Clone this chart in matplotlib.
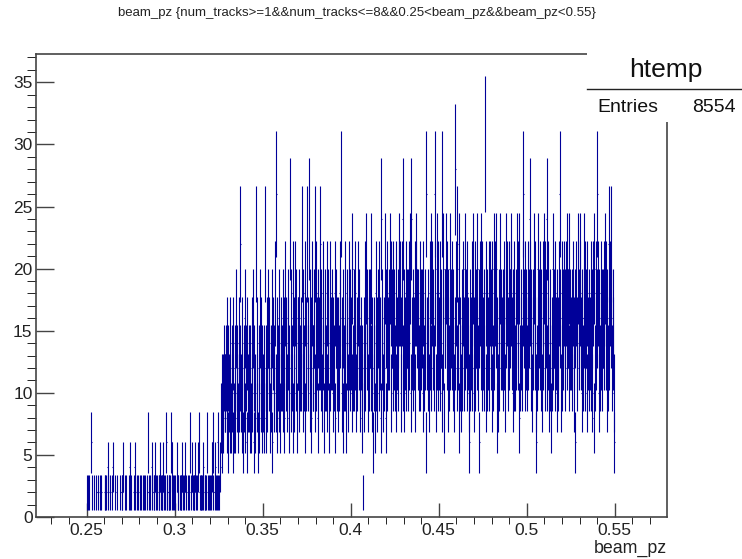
import matplotlib.pyplot as plt
import numpy as np
from matplotlib.lines import Line2D
from matplotlib.patches import Rectangle
from matplotlib.ticker import MultipleLocator

plt.rcParams["font.family"] = ["Liberation Sans", "DejaVu Sans"]

# bin content / 2 (every entry shows up twice), one hex digit per bin,
# groups of ten bins; 840 bins from beam_pz = 0.25 to 0.55
seg_025_030 = ("1101000310 0100010100 1001000011 0102100100 1200010010 0001011200 0110000121 "
               "1000102100 1100101001 0110001310 1002101120 1100112011 1201103110 1110321101")
seg_030_035 = ("1002110011 1201102100 1001301201 1120110231 0111120110 1301101102 3101201131 "
               "1024535465 5647365474 6537464856 4756b54736 5846375564 647583654b 5736485746")
seg_035_040 = ("564b647586 7465837569 5d74685476 6857496758 746c586947 5968477586 67b5869476 "
               "b76c587496 685b697487 7b68597468 6958746977 8576948675 7698d57486 6947857968")
seg_040_045 = ("75a6867957 6978567461 7596a78568 86a7536749 67589674c7 8576a48697 78a9586978 "
               "6957869a95 79c6857968 8697a5c768 7959a87869 6878596873 d768597a69 786d95a769")
seg_045_050 = ("79685d7a48 8a97586a78 796857e96b 7a46758697 6a78697536 8796a57968 7a68397a69 "
               "786f958679 6978596a79 8a47586a78 7869758a97 6978a97586 9687a97a46 7869d89678")
seg_050_055 = ("6978c96857 8a97536a78 7968597a69 8c69758647 6a78697586 79d8596879 8697a86a78 "
               "7869758397 6a78a97586 8a96859768 7968594a69 78d9586978 6879a97586 b79b867853")

x_start, x_stop, n_bins = 0.25, 0.55, 840
x_range = (0.2212, 0.5797)
entries = 8554
title = "beam_pz {num_tracks>=1&&num_tracks<=8&&0.25<beam_pz&&beam_pz<0.55}"

digits = "".join(" ".join([seg_025_030, seg_030_035, seg_035_040,
                           seg_040_045, seg_045_050, seg_050_055]).split())
assert len(digits) == n_bins
counts = np.array([2 * int(c, 16) for c in digits], dtype=float)
edges = np.linspace(x_start, x_stop, n_bins + 1)
centers = 0.5 * (edges[:-1] + edges[1:])
err = np.sqrt(counts)
filled = counts > 0

W, H = 742, 559
fig = plt.figure(figsize=(W / 100, H / 100), dpi=100)
ax = fig.add_axes([36 / W, 1 - 517 / H, (667 - 36) / W, (517 - 54) / H])

blue = "#000099"
ax.vlines(centers[filled], (counts - err)[filled], (counts + err)[filled],
          color=blue, lw=0.8)
ax.hlines(counts[filled], edges[:-1][filled], edges[1:][filled], color=blue, lw=0.8)

ax.set_xlim(*x_range)
ax.set_ylim(0, 37.28)
ax.xaxis.set_major_locator(MultipleLocator(0.05))
ax.xaxis.set_minor_locator(MultipleLocator(0.01))
ax.yaxis.set_major_locator(MultipleLocator(5))
ax.yaxis.set_minor_locator(MultipleLocator(1))
ax.xaxis.set_major_formatter(lambda v, p: f"{v:g}")

frame = "#444444"
for s in ax.spines.values():
    s.set_color(frame)
    s.set_linewidth(1.2)
ax.tick_params(axis="both", direction="in", colors=frame, labelcolor="#222222",
               labelsize=12.5, width=1.0)
ax.tick_params(axis="x", which="major", length=10, pad=4.5)
ax.tick_params(axis="x", which="minor", length=4.7)
ax.tick_params(axis="y", which="major", length=13, pad=2.5)
ax.tick_params(axis="y", which="minor", length=6.5)

fig.text(667 / W, 1 - 548 / H, "beam_pz", ha="right", va="center", fontsize=12.8,
         color="#222222")
fig.text(357 / W, 1 - 13 / H, title, ha="center", va="center", fontsize=9.5,
         color="#222222")

# stats box
fig.add_artist(Rectangle((587 / W, 1 - 122 / H), (W - 587) / W, (122 - 38) / H,
                         transform=fig.transFigure, facecolor="white",
                         edgecolor="none", zorder=5))
fig.add_artist(Line2D([587 / W, 1], [1 - 89 / H] * 2, transform=fig.transFigure,
                      color="#222222", lw=1.0, zorder=6))
fig.text(666 / W, 1 - 70 / H, "htemp", ha="center", va="center", fontsize=19,
         zorder=7, color="#111111")
fig.text(597 / W, 1 - 108 / H, "Entries", ha="left", va="center", fontsize=14,
         zorder=7, color="#111111")
fig.text(736 / W, 1 - 108 / H, f"{entries}", ha="right", va="center", fontsize=14,
         zorder=7, color="#111111")

fig.savefig("out.png", dpi=100, facecolor="white")
